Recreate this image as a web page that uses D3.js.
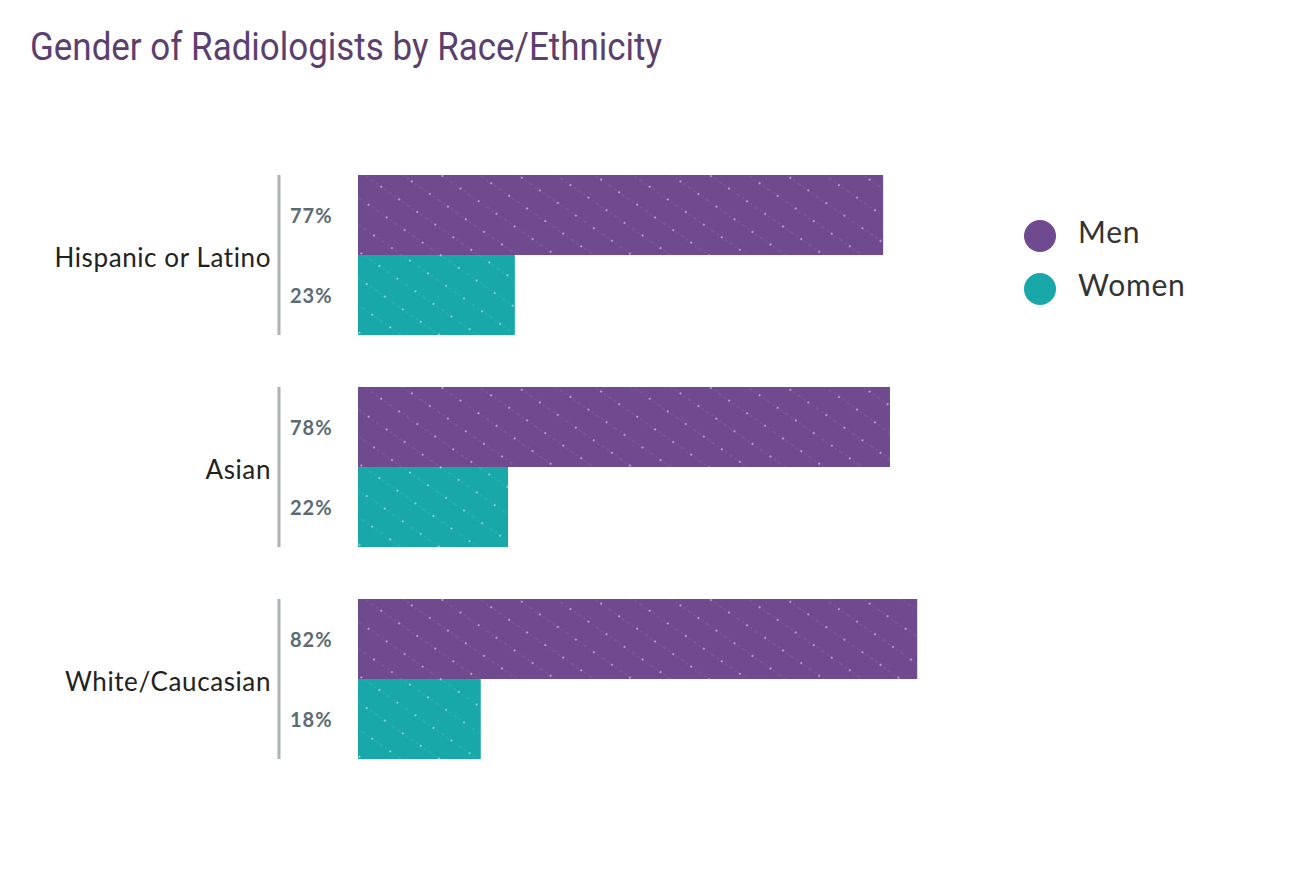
<!DOCTYPE html>
<html><head><meta charset="utf-8">
<script src="https://cdn.jsdelivr.net/npm/d3@7"></script>
<style>body{margin:0;background:#fff}svg{display:block}</style>
</head><body>
<svg id="c" width="1290" height="878"></svg>
<script>
const categories = ["Hispanic or Latino", "Asian", "White/Caucasian"];
const genders = ["Men", "Women"];
const menValues = [77, 78, 82];
const womenValues = [23, 22, 18];
const colors = {Men: "#6f4a8e", Women: "#18a8a9"};

const svg = d3.select("#c");
const defs = svg.append("defs");
genders.forEach(g => {
  const p = defs.append("pattern").attr("id", "pat-" + g).attr("patternUnits", "userSpaceOnUse")
    .attr("width", 22).attr("height", 22).attr("patternTransform", "rotate(35)");
  p.append("rect").attr("width", 22).attr("height", 22).attr("fill", colors[g]);
  p.append("line").attr("x1", 0).attr("y1", 11).attr("x2", 22).attr("y2", 11)
    .attr("stroke", "#fff").attr("stroke-opacity", 0.12).attr("stroke-width", 1).attr("stroke-dasharray", "2 3");
  p.append("circle").attr("cx", 11).attr("cy", 11).attr("r", 1).attr("fill", "#fff").attr("fill-opacity", 0.55);
});

svg.append("text").attr("x", 30).attr("y", 60).text("Gender of Radiologists by Race/Ethnicity")
  .attr("font-family", "Roboto").attr("font-size", 38).attr("fill", "#5c3f70")
  .attr("textLength", 632).attr("lengthAdjust", "spacingAndGlyphs");

const x = d3.scaleLinear().domain([0, 100]).range([358, 1040]);
const y = d3.scaleBand().domain(categories).range([175, 759]).paddingInner(52/212).paddingOuter(0);
const yi = d3.scaleBand().domain(genders).range([0, y.bandwidth()]);

const data = categories.map((c, i) => ({cat: c, Men: menValues[i], Women: womenValues[i]}));
const groups = svg.selectAll("g.grp").data(data).join("g").attr("class", "grp")
  .attr("transform", d => `translate(0,${y(d.cat)})`);

groups.append("line").attr("x1", 279).attr("x2", 279).attr("y1", 0).attr("y2", y.bandwidth())
  .attr("stroke", "#aab2b7").attr("stroke-width", 3);
groups.append("text").attr("x", 271).attr("y", y.bandwidth()/2 + 3).attr("dy", "0.35em")
  .attr("text-anchor", "end").attr("font-family", "Lato").attr("font-size", 26).attr("letter-spacing", 0.6)
  .attr("fill", "#222").text(d => d.cat);

genders.forEach(g => {
  groups.append("rect").attr("x", x(0)).attr("y", yi(g)).attr("height", yi.bandwidth())
    .attr("width", d => x(d[g]) - x(0)).attr("fill", `url(#pat-${g})`);
  groups.append("text").attr("x", 290).attr("y", yi(g) + yi.bandwidth()/2 + 1).attr("dy", "0.35em")
    .attr("font-family", "Lato").attr("font-weight", "bold").attr("font-size", 20).attr("letter-spacing", 1)
    .attr("fill", "#5b6b73").text(d => d[g] + "%");
});

const leg = svg.selectAll("g.leg").data(genders).join("g").attr("class", "leg")
  .attr("transform", (d, i) => `translate(1040,${236 + i*53})`);
leg.append("circle").attr("r", 16).attr("fill", d => colors[d]);
leg.append("text").attr("x", 38).attr("y", -4).attr("dy", "0.35em").attr("font-family", "Lato").attr("font-size", 30)
  .attr("letter-spacing", 0.8).attr("fill", "#333").text(d => d);
</script>
</body></html>
